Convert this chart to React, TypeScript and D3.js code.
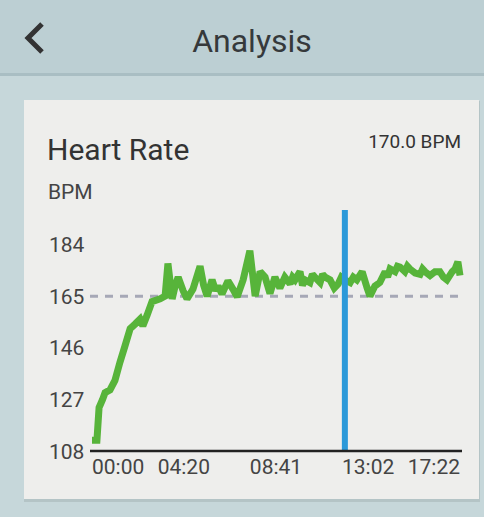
import * as d3 from "d3";

// heart rate samples: seconds since start, bpm
const times = [
  0, 14, 20, 30, 37, 51, 65, 79, 93, 108, 122, 136, 144, 156, 170, 193, 207, 215, 227, 236, 244, 258,
  269, 286, 306, 316, 326, 340, 350, 357, 368, 385, 399, 411, 428, 447, 462, 476, 490, 504, 518, 532,
  546, 561, 568, 575, 589, 596, 603, 617, 624, 631, 646, 653, 660, 674, 686, 697, 706, 716, 731, 740,
  750, 765, 779, 787, 801, 815, 830, 837, 844, 858, 865, 872, 886, 893, 900, 915, 929, 936, 943, 957,
  971, 985, 995, 1005, 1020, 1028, 1036, 1042,
];
const bpm = [
  112, 112, 124, 127, 129.5, 130.5, 134, 140.6, 146.5, 153, 154.7, 156.5, 154, 158, 163, 164, 165,
  177, 164, 169, 172, 167, 164, 167.6, 176, 169, 165, 171, 167, 168.7, 165.8, 170.6, 167.6, 164.7,
  171, 181.7, 165, 174, 172, 166, 172, 168, 172, 169.5, 172, 171, 174, 169, 171, 170, 173, 172, 170,
  173, 172, 171, 168, 169.5, 172, 171, 170, 172, 171, 174, 168, 165, 168.7, 170, 174, 172, 175, 174,
  176, 175.7, 174, 176, 175, 173.5, 173, 175, 174, 172.6, 174, 174, 172, 171, 174, 175, 177.6, 172.6,
];

const yTicks = [108, 127, 146, 165, 184];
const xTicks = [0, 260, 521, 782, 1042];
const xTickLabels = ["00:00", "04:20", "08:41", "13:02", "17:22"];
const limitValue = 165;
const markerTime = 716;
const currentValue = "170.0 BPM";

const W = 484;
const H = 517;
const font = "Roboto, 'Noto Sans', sans-serif";

export default function App() {
  const x = d3.scaleLinear().domain([0, 1042]).range([92, 460]);
  const y = d3.scaleLinear().domain([108, 184]).range([451, 244.5]);
  const data = times.map((t, i) => ({ t, v: bpm[i] }));
  const line = d3
    .line<{ t: number; v: number }>()
    .x((d) => x(d.t))
    .y((d) => y(d.v));

  return (
    <div style={{ position: "fixed", left: 0, top: 0 }}>
      <svg width={W} height={H} style={{ display: "block" }} fontFamily={font}>
        {/* page + header */}
        <rect width={W} height={H} fill="#c6d7da" />
        <rect width={W} height={74} fill="#bccfd3" />
        <rect y={73} width={W} height={3} fill="#a9bec3" />
        <path d="M42,24 L28,38 L42,52" fill="none" stroke="#333" strokeWidth={5} />
        <text x={252} y={52} textAnchor="middle" fontSize={32} fill="#35393b">
          Analysis
        </text>

        {/* card */}
        <rect x={24} y={101} width={456} height={401} fill="#b4c4c6" />
        <rect x={24} y={100} width={455} height={399} fill="#eeeeec" />

        <text x={47} y={160} fontSize={30} fill="#333">
          Heart Rate
        </text>
        <text x={461} y={148} textAnchor="end" fontSize={19} fill="#333">
          {currentValue}
        </text>
        <text x={48} y={199} fontSize={21} fill="#444">
          BPM
        </text>

        {yTicks.map((v) => (
          <text key={v} x={49} y={y(v)} dy="0.36em" fontSize={21} fill="#444">
            {v}
          </text>
        ))}

        {/* limit line */}
        <line
          x1={90}
          x2={462}
          y1={y(limitValue)}
          y2={y(limitValue)}
          stroke="#a6a8b6"
          strokeWidth={3}
          strokeDasharray="8,7"
        />

        <path
          d={line(data) ?? ""}
          fill="none"
          stroke="#57b43a"
          strokeWidth={7}
          strokeLinejoin="miter"
          strokeMiterlimit={2}
        />

        {/* highlight marker */}
        <line x1={x(markerTime)} x2={x(markerTime)} y1={210} y2={451} stroke="#2b99d9" strokeWidth={6} />

        {/* x axis */}
        <line x1={90} x2={462} y1={451} y2={451} stroke="#222" strokeWidth={2.5} />
        {xTicks.map((t, i) => (
          <text
            key={t}
            x={x(t)}
            y={474}
            fontSize={21}
            fill="#444"
            textAnchor={i === 0 ? "start" : i === xTicks.length - 1 ? "end" : "middle"}
          >
            {xTickLabels[i]}
          </text>
        ))}
      </svg>
    </div>
  );
}
